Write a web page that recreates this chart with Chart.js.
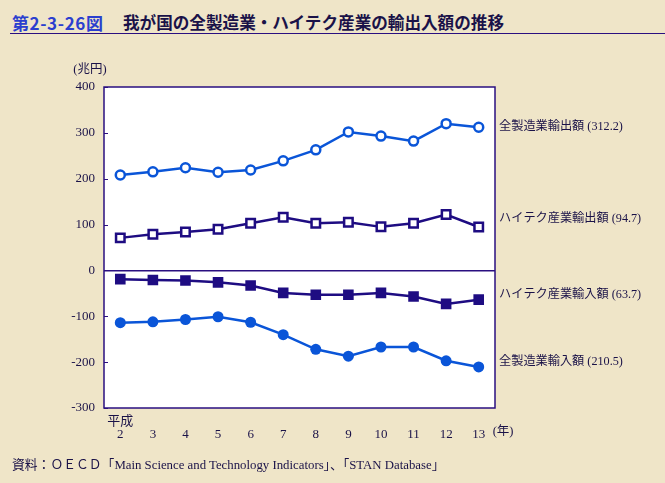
<!DOCTYPE html>
<html>
<head>
<meta charset="utf-8">
<script src="https://cdn.jsdelivr.net/npm/chart.js@4.4.1/dist/chart.umd.min.js"></script>
<style>
  body { margin: 0; background: #efe5c8; }
  #wrap { position: relative; width: 665px; height: 483px; overflow: hidden; }
  #num { position: absolute; left: 12px; top: 10px; font: bold 17px "Noto Sans CJK JP", sans-serif; color: #2b3fcf; letter-spacing: 0.6px; white-space: nowrap; }
  #title { position: absolute; left: 123px; top: 10px; font: bold 16.6px "Noto Sans CJK JP", sans-serif; color: #1a1248; white-space: nowrap; }
  #rule { position: absolute; left: 10px; right: 0; top: 33px; height: 0; border-top: 1.5px solid #2a0f80; }
  #src { position: absolute; left: 12px; top: 454px; font: 12.8px "Liberation Serif", "Noto Sans CJK JP", serif; color: #1a1248; white-space: nowrap; }
  canvas { position: absolute; left: 0; top: 0; }
</style>
</head>
<body>
<div id="wrap">
  <div id="num">第2-3-26図</div>
  <div id="title">我が国の全製造業・ハイテク産業の輸出入額の推移</div>
  <div id="rule"></div>
  <canvas id="myChart" width="665" height="483"></canvas>
  <div id="src">資料：ＯＥＣＤ「Main Science and Technology Indicators」、「STAN Database」</div>
</div>
<script>
// 平成2年〜13年
var years = ['2', '3', '4', '5', '6', '7', '8', '9', '10', '11', '12', '13'];

// 兆円
var mfgExport = [208, 215, 224, 214, 219, 239, 263, 302, 293, 282, 320, 312.2];
var hiExport = [71, 79, 84, 90, 103, 116, 103, 105, 95, 103, 122, 94.7];
var hiImport = [-19, -21, -22, -26, -33, -49, -53, -53, -49, -57, -73, -63.7];
var mfgImport = [-114, -112, -107, -101, -113, -140, -172, -187, -167, -167, -197, -210.5];

var seriesNames = ['全製造業輸出額 (312.2)', 'ハイテク産業輸出額 (94.7)', 'ハイテク産業輸入額 (63.7)', '全製造業輸入額 (210.5)'];

var blue = '#0a55d8';
var navy = '#1e0c82';
var ink = '#1a1248';
var serif = '"Liberation Serif", "Noto Sans CJK JP", serif';

var frame = {
  id: 'frame',
  beforeDraw: function (chart) {
    var a = chart.chartArea, ctx = chart.ctx;
    ctx.save();
    ctx.fillStyle = '#ffffff';
    ctx.fillRect(a.left, a.top, a.right - a.left, a.bottom - a.top);
    ctx.restore();
  },
  afterDraw: function (chart) {
    var a = chart.chartArea, ctx = chart.ctx;
    var y = chart.scales.y, x = chart.scales.x;
    ctx.save();
    ctx.strokeStyle = '#2a0f80';
    ctx.lineWidth = 1.5;
    ctx.strokeRect(a.left, a.top, a.right - a.left, a.bottom - a.top);
    // small inner ticks
    ctx.lineWidth = 1;
    y.ticks.forEach(function (t) {
      var py = Math.round(y.getPixelForValue(t.value)) + 0.5;
      ctx.beginPath();
      ctx.moveTo(a.left, py);
      ctx.lineTo(a.left + 4, py);
      ctx.stroke();
    });
    ctx.fillStyle = ink;
    ctx.font = '12.5px ' + serif;
    ctx.textAlign = 'center';
    ctx.textBaseline = 'middle';
    ctx.fillText('(兆円)', a.left - 14, a.top - 17);
    ctx.textAlign = 'left';
    ctx.fillText('(年)', x.getPixelForValue(years.length - 1) + 14, a.bottom + 24);
    // series labels at line ends
    ctx.font = '12.2px ' + serif;
    var shift = [0, -8, -5, -5];
    chart.data.datasets.forEach(function (ds, i) {
      var last = ds.data[ds.data.length - 1];
      ctx.fillText(seriesNames[i], a.right + 4, y.getPixelForValue(last) + shift[i]);
    });
    ctx.restore();
  }
};

new Chart('myChart', {
  type: 'line',
  data: {
    labels: years,
    datasets: [
      { label: seriesNames[0], data: mfgExport, borderColor: blue, backgroundColor: '#ffffff',
        pointStyle: 'circle', pointRadius: 4.5, pointBorderWidth: 2.5, pointBackgroundColor: '#ffffff', pointBorderColor: blue },
      { label: seriesNames[1], data: hiExport, borderColor: navy, backgroundColor: '#ffffff',
        pointStyle: 'rect', pointRadius: 6, pointBorderWidth: 2.5, pointBackgroundColor: '#ffffff', pointBorderColor: navy },
      { label: seriesNames[2], data: hiImport, borderColor: navy, backgroundColor: navy,
        pointStyle: 'rect', pointRadius: 7.5, pointBorderWidth: 0, pointBackgroundColor: navy },
      { label: seriesNames[3], data: mfgImport, borderColor: blue, backgroundColor: blue,
        pointStyle: 'circle', pointRadius: 5.5, pointBorderWidth: 0, pointBackgroundColor: blue }
    ]
  },
  options: {
    responsive: false,
    animation: false,
    elements: { line: { borderWidth: 2.5, tension: 0 } },
    layout: { padding: { top: 87, right: 170, bottom: 0, left: 0 } },
    plugins: { legend: { display: false }, tooltip: { enabled: false } },
    scales: {
      x: {
        offset: true,
        border: { display: false },
        grid: { display: false },
        ticks: {
          color: ink,
          font: { family: serif, size: 13, lineHeight: 0.93 },
          padding: 0,
          maxRotation: 0,
          autoSkip: false,
          callback: function (v, i) { return [i === 0 ? '平成' : '', years[i]]; }
        },
        afterFit: function (s) { s.height = 75; }
      },
      y: {
        min: -300,
        max: 400,
        border: { display: false },
        grid: {
          drawTicks: false,
          lineWidth: 1.5,
          color: function (c) { return c.tick && c.tick.value === 0 ? '#2a0f80' : 'rgba(0,0,0,0)'; }
        },
        ticks: { stepSize: 100, color: ink, font: { family: serif, size: 13 }, padding: 9 },
        afterFit: function (s) { s.width = 104; }
      }
    }
  },
  plugins: [frame]
});
</script>
</body>
</html>
